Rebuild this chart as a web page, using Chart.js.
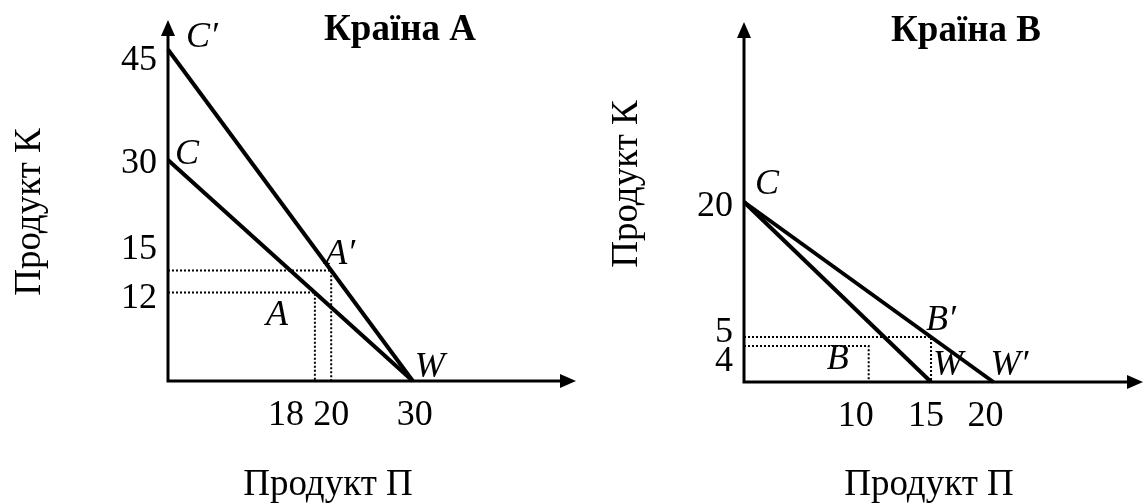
<!DOCTYPE html>
<html>
<head>
<meta charset="utf-8">
<script src="https://cdn.jsdelivr.net/npm/chart.js@4.4.0/dist/chart.umd.min.js"></script>
<style>
html, body { margin: 0; padding: 0; background: #fff; }
#wrap { display: flex; width: 1144px; height: 504px; }
canvas { display: block; }
</style>
</head>
<body>
<div id="wrap">
  <canvas id="chartA" width="580" height="504"></canvas>
  <canvas id="chartB" width="564" height="504"></canvas>
</div>
<script>
// ---- Країна А ----
const titleA = 'Країна А';
const xTicksA = [18, 20, 30];
const yTicksA = [12, 15, 30, 45];
const lineCW_A = [[0, 30], [30, 0]];
const lineC2W_A = [[0, 45], [30, 0]];
const pointsA = [[18, 12], [20, 15]];            // A, A′
const lettersA = [['C′', 0, 45], ['C', 0, 30], ['A′', 20, 15], ['A', 18, 12], ['W', 30, 0]];

// ---- Країна В ----
const titleB = 'Країна В';
const xTicksB = [10, 15, 20];
const yTicksB = [4, 5, 20];
const lineCW_B = [[0, 20], [15, 0]];
const lineCW2_B = [[0, 20], [20, 0]];
const pointsB = [[10, 4], [15, 5]];              // B, B′
const lettersB = [['C', 0, 20], ['B′', 15, 5], ['B', 10, 4], ['W', 15, 0], ['W′', 20, 0]];

const xTitle = 'Продукт П';
const yTitle = 'Продукт К';

const SERIF = '"Liberation Serif", "Times New Roman", serif';

function drawArrow(ctx, x, y, dir) {
  // dir: 'up' or 'right', (x,y) is the tip
  ctx.beginPath();
  if (dir === 'up') {
    ctx.moveTo(x, y);
    ctx.lineTo(x - 7, y + 16);
    ctx.lineTo(x + 7, y + 16);
  } else {
    ctx.moveTo(x, y);
    ctx.lineTo(x - 16, y - 7);
    ctx.lineTo(x - 16, y + 7);
  }
  ctx.closePath();
  ctx.fill();
}

function decor(cfg) {
  return {
    id: 'decor',
    beforeDatasetsDraw(chart) {
      const { ctx, chartArea: a } = chart;
      ctx.save();
      ctx.strokeStyle = '#000';
      ctx.fillStyle = '#000';
      ctx.lineWidth = 3;
      ctx.beginPath();
      ctx.moveTo(a.left, a.top + 12);
      ctx.lineTo(a.left, a.bottom);
      ctx.lineTo(a.right - 12, a.bottom);
      ctx.stroke();
      drawArrow(ctx, a.left, a.top, 'up');
      drawArrow(ctx, a.right, a.bottom, 'right');
      ctx.restore();
    },
    afterDatasetsDraw(chart) {
      const { ctx, chartArea: a, scales: { x, y } } = chart;
      ctx.save();
      ctx.fillStyle = '#000';
      ctx.textBaseline = 'middle';

      // tick labels
      ctx.font = '36px ' + SERIF;
      ctx.textAlign = 'right';
      cfg.yTicks.forEach(v => {
        ctx.fillText(String(v), a.left - 11, y.getPixelForValue(v) + (cfg.yNudge[v] || 0));
      });
      ctx.textAlign = 'center';
      cfg.xTicks.forEach(v => {
        ctx.fillText(String(v), x.getPixelForValue(v) + (cfg.xNudge[v] || 0), a.bottom + 35);
      });

      // point letters
      ctx.font = 'italic 36px ' + SERIF;
      cfg.letters.forEach(([txt, vx, vy], i) => {
        const [dx, dy] = cfg.letterOffsets[i];
        ctx.fillText(txt, x.getPixelForValue(vx) + dx, y.getPixelForValue(vy) + dy);
      });

      // title
      ctx.font = 'bold 37px ' + SERIF;
      ctx.fillText(cfg.title, cfg.titlePos[0], cfg.titlePos[1]);

      // axis titles
      ctx.font = '37px ' + SERIF;
      ctx.fillText(xTitle, cfg.xTitlePos[0], cfg.xTitlePos[1]);
      ctx.translate(cfg.yTitlePos[0], cfg.yTitlePos[1]);
      ctx.rotate(-Math.PI / 2);
      ctx.fillText(yTitle, 0, 0);
      ctx.restore();
    }
  };
}

function makeChart(id, cfg) {
  const ctx = document.getElementById(id).getContext('2d');
  const datasets = [];
  cfg.lines.forEach(l => datasets.push({
    data: l.map(([x, y]) => ({ x, y })),
    showLine: true,
    borderColor: '#000',
    borderWidth: 4,
    pointRadius: 0,
    clip: false
  }));
  cfg.points.forEach(([x, y]) => datasets.push({
    data: [{ x: 0, y }, { x, y }, { x, y: 0 }],
    showLine: true,
    borderColor: '#000',
    borderWidth: 2,
    borderDash: [2, 2],
    pointRadius: 0,
    clip: false
  }));

  return new Chart(ctx, {
    type: 'scatter',
    data: { datasets },
    options: {
      responsive: false,
      animation: false,
      layout: { padding: cfg.pad },
      plugins: { legend: { display: false }, tooltip: { enabled: false } },
      scales: {
        x: { type: 'linear', min: 0, max: cfg.xMax, display: false },
        y: { type: 'linear', min: 0, max: cfg.yMax, display: false }
      }
    },
    plugins: [decor(cfg)]
  });
}

makeChart('chartA', {
  title: titleA,
  lines: [lineCW_A, lineC2W_A],
  points: pointsA,
  xTicks: xTicksA,
  yTicks: yTicksA,
  letters: lettersA,
  xMax: 50,
  yMax: 49,
  pad: { left: 168, top: 20, right: 4, bottom: 123 },
  yNudge: { 45: 11, 30: 4, 15: -21, 12: 6 },
  xNudge: { 18: -29, 20: 0, 30: 2 },
  letterOffsets: [[34, -12], [19, -5], [9, -16], [-38, 23], [17, -13]],
  titlePos: [400, 30],
  xTitlePos: [328, 485],
  yTitlePos: [30, 212]
});

makeChart('chartB', {
  title: titleB,
  lines: [lineCW_B, lineCW2_B],
  points: pointsB,
  xTicks: xTicksB,
  yTicks: yTicksB,
  letters: lettersB,
  xMax: 32,
  yMax: 40,
  pad: { left: 164, top: 22, right: 1, bottom: 122 },
  yNudge: { 20: 5, 5: -4, 4: 16 },
  xNudge: { 10: -13, 15: -5, 20: -8 },
  letterOffsets: [[23, -17], [10, -16], [-31, 14], [17, -16], [16, -16]],
  titlePos: [386, 31],
  xTitlePos: [349, 485],
  yTitlePos: [47, 184]
});
</script>
</body>
</html>
